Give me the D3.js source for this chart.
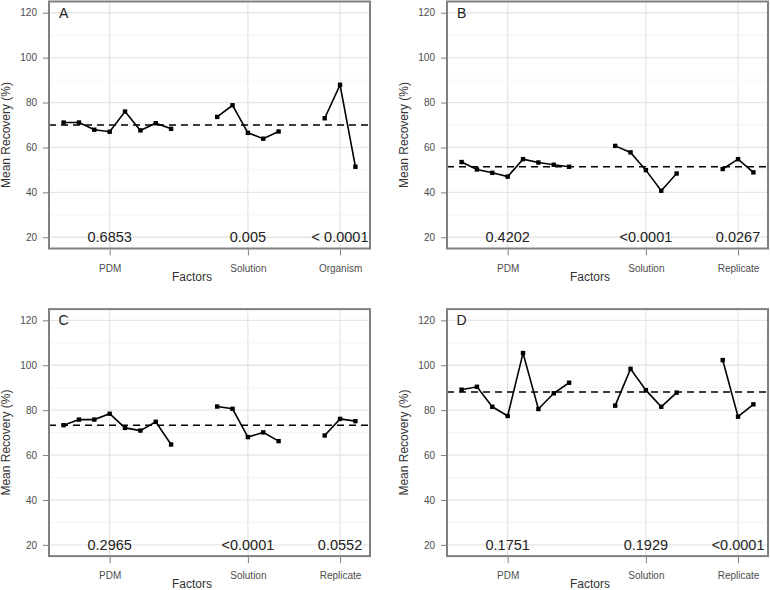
<!DOCTYPE html>
<html>
<head>
<meta charset="utf-8">
<script src="https://cdn.jsdelivr.net/npm/d3@7"></script>
<style>
  html, body { margin: 0; padding: 0; background: #fff; }
  svg { display: block; font-family: "Liberation Sans", Arial, sans-serif; }
</style>
</head>
<body>
<svg id="chart" width="770" height="590"></svg>
<script>
// ---- Data ----
const panelLetters = ["A", "B", "C", "D"];
const factorsA = ["PDM", "Solution", "Organism"];
const factorsBCD = ["PDM", "Solution", "Replicate"];
const yTicks = [20, 40, 60, 80, 100, 120];
const yMinor = [30, 50, 70, 90, 110];

// Panel A
const pdmA = [71.1, 71.1, 67.9, 67.0, 76.0, 67.6, 70.8, 68.3];
const solA = [73.6, 78.8, 66.5, 63.9, 67.1];
const orgA = [73.0, 87.9, 51.4];
const meanA = 70.0;
const pvalA = ["0.6853", "0.005", "< 0.0001"];

// Panel B
const pdmB = [53.5, 50.2, 48.7, 47.0, 54.8, 53.3, 52.3, 51.4];
const solB = [60.7, 57.8, 49.9, 40.7, 48.4];
const repB = [50.4, 54.8, 48.9];
const meanB = 51.4;
const pvalB = ["0.4202", "<0.0001", "0.0267"];

// Panel C
const pdmC = [73.3, 75.8, 75.8, 78.4, 72.1, 70.9, 74.8, 64.7];
const solC = [81.6, 80.6, 68.0, 70.1, 66.2];
const repC = [68.7, 76.1, 75.1];
const meanC = 73.3;
const pvalC = ["0.2965", "<0.0001", "0.0552"];

// Panel D
const pdmD = [89.1, 90.4, 81.5, 77.4, 105.4, 80.5, 87.5, 92.2];
const solD = [82.0, 98.4, 88.9, 81.5, 87.8];
const repD = [102.3, 77.1, 82.6];
const meanD = 88.1;
const pvalD = ["0.1751", "0.1929", "<0.0001"];

const panels = [
  { letter: panelLetters[0], factors: factorsA, groups: [pdmA, solA, orgA], mean: meanA, pvals: pvalA, ox: 0, oy: 0 },
  { letter: panelLetters[1], factors: factorsBCD, groups: [pdmB, solB, repB], mean: meanB, pvals: pvalB, ox: 398, oy: 0 },
  { letter: panelLetters[2], factors: factorsBCD, groups: [pdmC, solC, repC], mean: meanC, pvals: pvalC, ox: 0, oy: 307.6 },
  { letter: panelLetters[3], factors: factorsBCD, groups: [pdmD, solD, repD], mean: meanD, pvals: pvalD, ox: 398, oy: 307.6 }
];

const svg = d3.select("#chart");

function drawPanel(p) {
  const left = 49, right = 370, top = 1.5, bottom = 248.5;
  const g = svg.append("g").attr("transform", `translate(${p.ox},${p.oy})`);

  // index layout: groups separated by a gap of 2 positions
  let start = 1;
  const groupData = p.groups.map((vals, gi) => {
    const pts = vals.map((v, i) => ({ x: start + i, y: v }));
    const tick = start + Math.floor((vals.length - 1) / 2);
    start += vals.length + 2;
    return { pts, tick, name: p.factors[gi], pval: p.pvals[gi] };
  });
  const nMax = start - 3;
  const x = d3.scaleLinear().domain([1 - 0.05 * (nMax - 1), nMax + 0.05 * (nMax - 1)]).range([left, right]);
  const y = d3.scaleLinear().domain([15, 125]).range([bottom, top]);

  // grid
  const grid = g.append("g");
  grid.selectAll(".minor").data(yMinor).join("line")
    .attr("x1", left).attr("x2", right)
    .attr("y1", d => y(d)).attr("y2", d => y(d))
    .attr("stroke", "#f4f4f4").attr("stroke-width", 1);
  grid.selectAll(".major").data(yTicks).join("line")
    .attr("x1", left).attr("x2", right)
    .attr("y1", d => y(d)).attr("y2", d => y(d))
    .attr("stroke", "#e6e6e6").attr("stroke-width", 1.3);
  grid.selectAll(".vmajor").data(groupData).join("line")
    .attr("x1", d => x(d.tick)).attr("x2", d => x(d.tick))
    .attr("y1", top).attr("y2", bottom)
    .attr("stroke", "#e6e6e6").attr("stroke-width", 1.3);

  // mean dashed line
  g.append("line")
    .attr("x1", left).attr("x2", right)
    .attr("y1", y(p.mean)).attr("y2", y(p.mean))
    .attr("stroke", "#000").attr("stroke-width", 1.6)
    .attr("stroke-dasharray", "7,5");

  // series lines and markers
  const line = d3.line().x(d => x(d.x)).y(d => y(d.y));
  groupData.forEach(gd => {
    g.append("path").datum(gd.pts)
      .attr("d", line).attr("fill", "none")
      .attr("stroke", "#000").attr("stroke-width", 1.6);
    g.selectAll(null).data(gd.pts).join("rect")
      .attr("x", d => x(d.x) - 2.2).attr("y", d => y(d.y) - 2.2)
      .attr("width", 4.4).attr("height", 4.4).attr("fill", "#000");
  });

  // p-values
  g.selectAll(".pv").data(groupData).join("text")
    .attr("x", d => x(d.tick)).attr("y", y(20))
    .attr("dy", "0.36em")
    .attr("text-anchor", "middle")
    .attr("font-size", "14.5px").attr("fill", "#222")
    .text(d => d.pval);

  // panel letter
  g.append("text")
    .attr("x", x(1)).attr("y", y(120)).attr("dy", "0.36em")
    .attr("text-anchor", "middle").attr("font-size", "14px").attr("fill", "#222")
    .text(p.letter);

  // frame
  g.append("rect")
    .attr("x", left).attr("y", top)
    .attr("width", right - left).attr("height", bottom - top)
    .attr("fill", "none").attr("stroke", "#808080").attr("stroke-width", 2);

  // y axis
  const yAxis = d3.axisLeft(y).tickValues(yTicks).tickSize(5).tickPadding(6);
  const ya = g.append("g").attr("transform", `translate(${left - 1},0)`).call(yAxis);
  ya.select(".domain").remove();
  ya.selectAll(".tick line").attr("stroke", "#7f7f7f");
  ya.selectAll(".tick text").attr("font-size", "10px").attr("fill", "#4d4d4d")
    .attr("font-family", "Liberation Sans, Arial, sans-serif");

  // x axis
  const xAxis = d3.axisBottom(x).tickValues(groupData.map(d => d.tick))
    .tickFormat((d, i) => groupData[i].name).tickSize(6).tickPadding(9);
  const xa = g.append("g").attr("transform", `translate(0,${bottom + 1})`).call(xAxis);
  xa.select(".domain").remove();
  xa.selectAll(".tick line").attr("stroke", "#7f7f7f");
  xa.selectAll(".tick text").attr("font-size", "10px").attr("fill", "#4d4d4d")
    .attr("font-family", "Liberation Sans, Arial, sans-serif");

  // axis titles
  g.append("text")
    .attr("transform", `translate(6,135) rotate(-90)`)
    .attr("text-anchor", "middle").attr("dy", "0.36em")
    .attr("font-size", "12px").attr("fill", "#333")
    .text("Mean Recovery (%)");
  g.append("text")
    .attr("x", 192).attr("y", 276.5).attr("dy", "0.36em")
    .attr("text-anchor", "middle")
    .attr("font-size", "12px").attr("fill", "#333")
    .text("Factors");
}

panels.forEach(drawPanel);
</script>
</body>
</html>
